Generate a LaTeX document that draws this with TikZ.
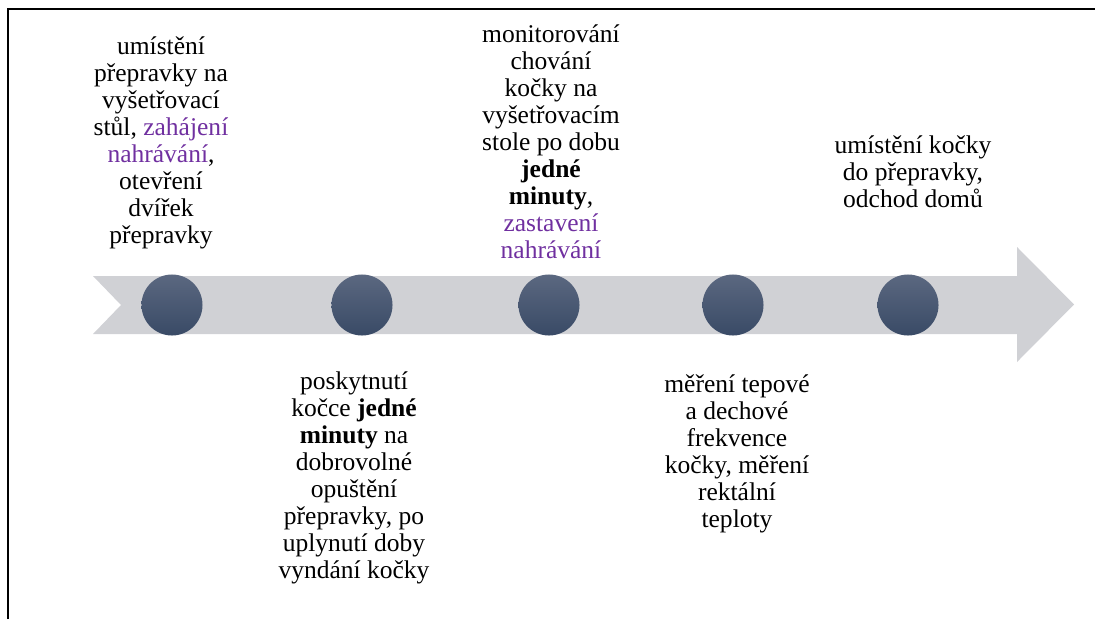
\documentclass[tikz,border=0pt]{standalone}
\usepackage{fontspec}
\setmainfont{Liberation Serif}
\usepackage{tikz}
\definecolor{recpurple}{HTML}{7030A0}
\definecolor{bandgray}{HTML}{D0D1D5}
\definecolor{dottop}{HTML}{5B6880}
\definecolor{dotbot}{HTML}{394A66}

\begin{document}
\begin{tikzpicture}[x=0.025cm, y=-0.025cm,
  stage/.style={circle, minimum size=1.525cm, inner sep=0pt, top color=dottop, bottom color=dotbot},
  note/.style={align=center, inner sep=0pt, anchor=north, font=\fontsize{18.15}{19.2}\selectfont}]

\useasboundingbox (0,0) rectangle (1095,619);

\draw[line width=1.2pt] (8,619) -- (8,9) -- (1095,9);

\fill[bandgray] (93,276) -- (1017,276) -- (1017,247) -- (1074,304.5) -- (1017,362)
  -- (1017,334) -- (93,334) -- (121,305) -- cycle;

\node[stage] (s1) at (172,305) {};
\node[stage] (s2) at (362,305) {};
\node[stage] (s3) at (549,305) {};
\node[stage] (s4) at (733,305) {};
\node[stage] (s5) at (908,305) {};

\node[note] (n1) at (161,35) {\strut umístění\\přepravky na\\vyšetřovací\\stůl, \textcolor{recpurple}{zahájení}\\\textcolor{recpurple}{nahrávání},\\otevření\\dvířek\\přepravky};
\node[note] (n3) at (551,23) {\strut monitorování\\chování\\kočky na\\vyšetřovacím\\stole po dobu\\\textbf{jedné}\\\textbf{minuty},\\\textcolor{recpurple}{zastavení}\\\textcolor{recpurple}{nahrávání}};
\node[note] (n5) at (913,134) {\strut umístění kočky\\do přepravky,\\odchod domů};

\node[note] (n2) at (354,370) {\strut poskytnutí\\kočce \textbf{jedné}\\\textbf{minuty} na\\dobrovolné\\opuštění\\přepravky, po\\uplynutí doby\\vyndání kočky};
\node[note] (n4) at (737,373) {\strut měření tepové\\a dechové\\frekvence\\kočky, měření\\rektální\\teploty};

\end{tikzpicture}
\end{document}
